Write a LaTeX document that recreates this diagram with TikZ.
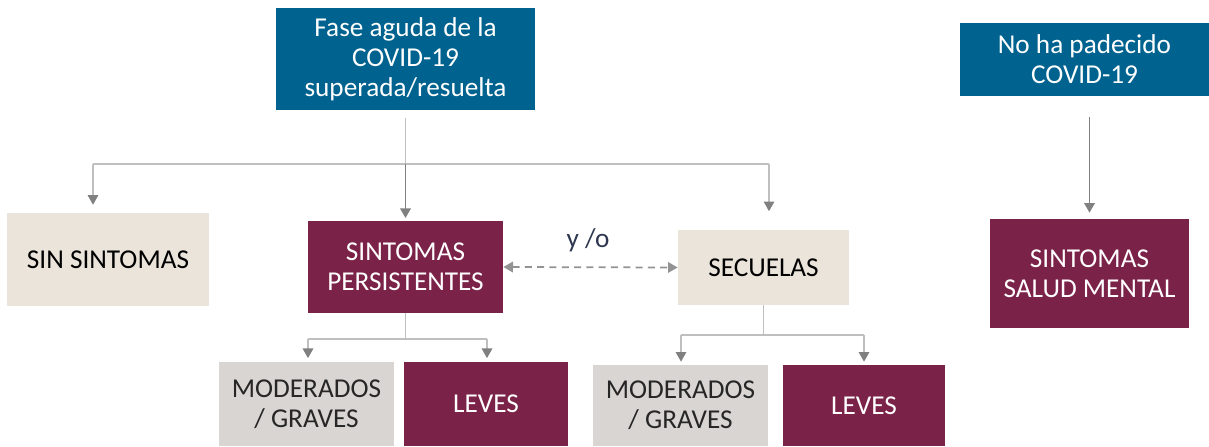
\documentclass[tikz,border=0pt]{standalone}
\usepackage{fontspec}
\setmainfont{Carlito}
\usetikzlibrary{arrows.meta}
\definecolor{covblue}{RGB}{0,98,142}
\definecolor{covwine}{RGB}{123,34,73}
\definecolor{covsand}{RGB}{234,228,218}
\definecolor{covgrey}{RGB}{217,213,211}
\definecolor{linegrey}{RGB}{191,191,191}
\definecolor{tipgrey}{RGB}{128,128,128}
\definecolor{labelink}{RGB}{45,55,80}
\begin{document}
\begin{tikzpicture}[x=0.02cm, y=-0.02cm,
  box/.style={rectangle,inner sep=0pt,align=center,font=\fontsize{15.5}{17}\selectfont},
  blue box/.style={box,fill=covblue,text=white},
  wine box/.style={box,fill=covwine,text=white},
  sand box/.style={box,fill=covsand,text=black},
  grey box/.style={box,fill=covgrey,text=black!85},
  link/.style={draw=linegrey,line width=0.85pt},
  arrow/.style={link,-{Triangle[width=6pt,length=5.5pt,color=tipgrey]}},
  main arrow/.style={draw=tipgrey,line width=1.1pt,-{Triangle[width=6pt,length=5.5pt]}},
  dashed arrow/.style={draw=tipgrey!85,line width=1pt,dash pattern=on 4pt off 3pt,{Triangle[width=6pt,length=5.5pt]}-{Triangle[width=6pt,length=5.5pt]}}]
\useasboundingbox (0,0) rectangle (1209,446);
% top row
\node [blue box,minimum width=5.18cm,minimum height=2.04cm](fase) at (405.5,59) {Fase aguda de la\\COVID-19\\superada/resuelta};
\node [blue box,minimum width=4.98cm,minimum height=1.46cm](nopad) at (1084.5,59.5) {No ha padecido\\COVID-19};
% middle row
\node [sand box,minimum width=4.04cm,minimum height=1.86cm](sin) at (108,259.5) {SIN SINTOMAS};
\node [wine box,minimum width=3.90cm,minimum height=1.84cm](pers) at (405.5,267) {SINTOMAS\\PERSISTENTES};
\node [sand box,minimum width=3.42cm,minimum height=1.50cm](secu) at (763.5,267.5) {SECUELAS};
\node [wine box,minimum width=3.98cm,minimum height=2.18cm](salud) at (1089.5,273.5) {SINTOMAS\\SALUD MENTAL};
% bottom row
\node [grey box,minimum width=3.50cm,minimum height=1.68cm](mod1) at (306.5,404) {MODERADOS\\/ GRAVES};
\node [wine box,minimum width=3.28cm,minimum height=1.68cm](lev1) at (486,404) {LEVES};
\node [grey box,minimum width=3.50cm,minimum height=1.62cm](mod2) at (680.5,405.5) {MODERADOS\\/ GRAVES};
\node [wine box,minimum width=3.24cm,minimum height=1.62cm](lev2) at (864,405.5) {LEVES};
\node [text=labelink,font=\fontsize{15.5}{17}\selectfont](yo) at (588,240) {y /o};
% junctions
\coordinate (jtop) at (405.5,164);
\coordinate (jsin) at (93,164);
\coordinate (jsec) at (769,164);
\coordinate (jpers) at (405.5,339);
\coordinate (jmod1) at (308,339);
\coordinate (jlev1) at (487,339);
\coordinate (jsecu) at (763.5,335);
\coordinate (jmod2) at (681,335);
\coordinate (jlev2) at (864,335);
% connectors
\draw [link,shorten <=4.5pt] (fase.south) -- (jtop);
\draw [link] (jsin) -- (jsec);
\draw [arrow,shorten >=4.5pt] (jsin) -- (jsin |- sin.north);
\draw [main arrow,shorten >=1.5pt] (jtop) -- (pers.north);
\draw [arrow,shorten >=10.5pt] (jsec) -- (jsec |- secu.north);
\draw [dashed arrow] (pers.east) -- (secu.west);
\draw [link] (pers.south) -- (jpers);
\draw [link] (jmod1) -- (jlev1);
\draw [arrow,shorten >=2pt] (jmod1) -- (jmod1 |- mod1.north);
\draw [arrow,shorten >=2pt] (jlev1) -- (jlev1 |- lev1.north);
\draw [link] (secu.south) -- (jsecu);
\draw [link] (jmod2) -- (jlev2);
\draw [arrow,shorten >=1.7pt] (jmod2) -- (jmod2 |- mod2.north);
\draw [arrow,shorten >=1.7pt] (jlev2) -- (jlev2 |- lev2.north);
\draw [main arrow,shorten <=12pt,shorten >=3.4pt] (salud.north |- nopad.south) -- (salud.north);
\end{tikzpicture}
\end{document}
